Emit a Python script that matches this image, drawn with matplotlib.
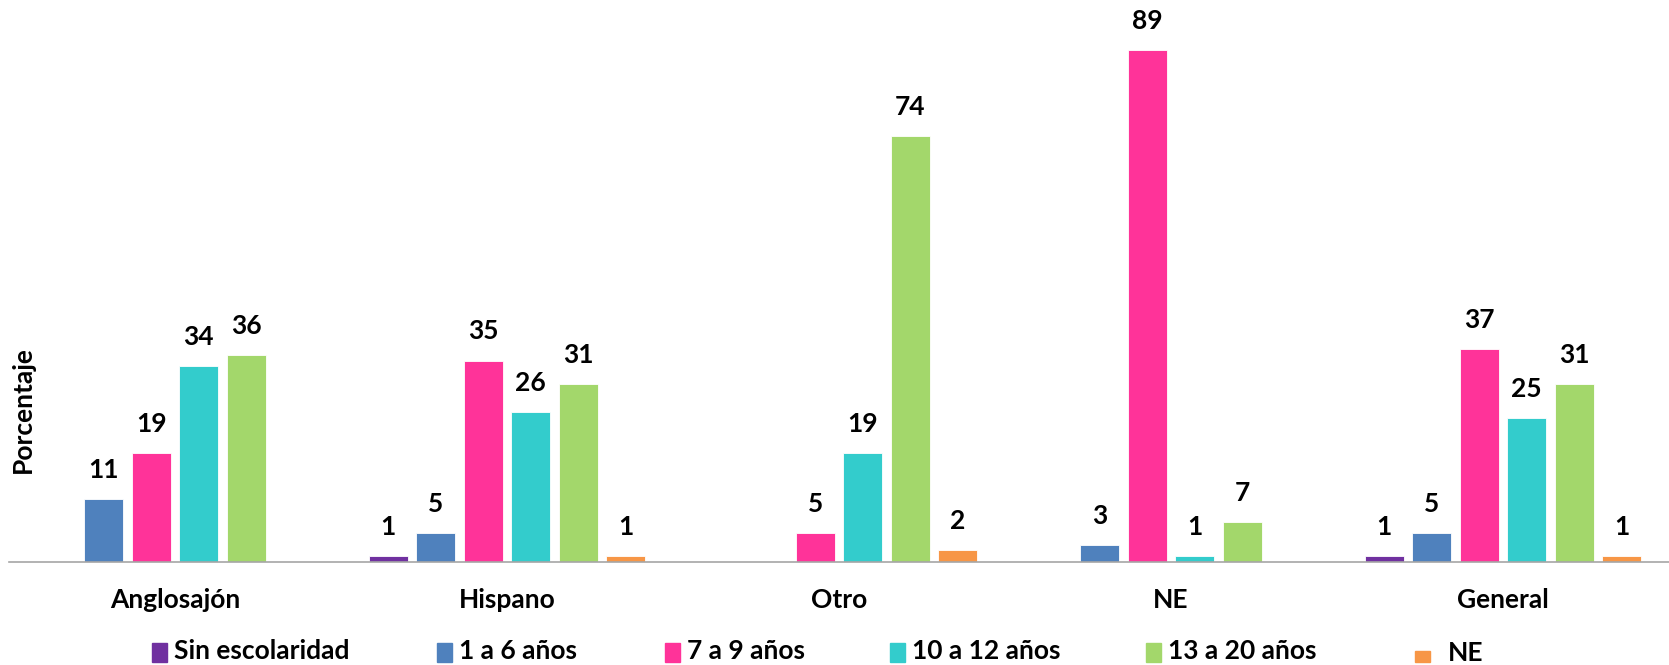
import matplotlib
matplotlib.use('Agg')
import matplotlib.pyplot as plt
from matplotlib.patches import Rectangle
import numpy as np

plt.rcParams['font.family'] = ['Lato', 'DejaVu Sans']

categorias = ['Anglosajón', 'Hispano', 'Otro', 'NE', 'General']
series = ['Sin escolaridad', '1 a 6 años', '7 a 9 años', '10 a 12 años', '13 a 20 años', 'NE']
colores = ['#7030A0', '#4F81BD', '#FF3399', '#33CCCC', '#A3D76B', '#F79646']

sin_escolaridad = [0, 1, 0, 0, 1]
anos_1_6 = [11, 5, 0, 3, 5]
anos_7_9 = [19, 35, 5, 89, 37]
anos_10_12 = [34, 26, 19, 1, 25]
anos_13_20 = [36, 31, 74, 7, 31]
ne = [0, 1, 2, 0, 1]
valores = [sin_escolaridad, anos_1_6, anos_7_9, anos_10_12, anos_13_20, ne]

W, H = 1669, 665
fig = plt.figure(figsize=(W / 100, H / 100), dpi=100)
ax = fig.add_axes([9 / W, 103 / H, 1 - 9 / W, 558 / H])

x = np.arange(len(categorias))
paso = 0.143
ancho = 0.117
for i, (nombre, vals, c) in enumerate(zip(series, valores, colores)):
    pos = x + (i - 2.5) * paso
    for p, v in zip(pos, vals):
        if v == 0:
            continue
        ax.bar(p, v, width=ancho, color=c, edgecolor='white', linewidth=0.6)
        ax.annotate(str(v), (p, v), xytext=(0, 21), textcoords='offset points',
                    ha='center', va='center', fontsize=19, fontweight='bold')

ax.set_xlim(-0.5, len(categorias) - 0.5)
ax.set_ylim(0, 97)
ax.set_xticks(x)
ax.set_xticklabels(categorias, fontsize=19, fontweight='bold')
ax.tick_params(axis='x', length=0, pad=19)
ax.set_yticks([])
for s in ['top', 'right', 'left']:
    ax.spines[s].set_visible(False)
ax.spines['bottom'].set_color('#A6A6A6')
ax.spines['bottom'].set_linewidth(1.2)

fig.text(23 / W, 1 - 410 / H, 'Porcentaje', rotation=90, ha='center', va='center',
         fontsize=19, fontweight='bold')

# leyenda manual
ley_x = [152, 437, 665, 890, 1146, 1415]
for nombre, c, lx in zip(series, colores, ley_x):
    if nombre == 'NE':
        fig.patches.append(Rectangle((lx / W, 1 - 662 / H), 15 / W, 11 / H,
                                     transform=fig.transFigure, color=c))
        fig.text((lx + 33) / W, 1 - 653 / H, nombre, ha='left', va='center',
                 fontsize=19, fontweight='bold')
    else:
        fig.patches.append(Rectangle((lx / W, 1 - 662 / H), 15 / W, 19 / H,
                                     transform=fig.transFigure, color=c))
        fig.text((lx + 22) / W, 1 - 651 / H, nombre, ha='left', va='center',
                 fontsize=19, fontweight='bold')

fig.savefig('out.png', dpi=100)
